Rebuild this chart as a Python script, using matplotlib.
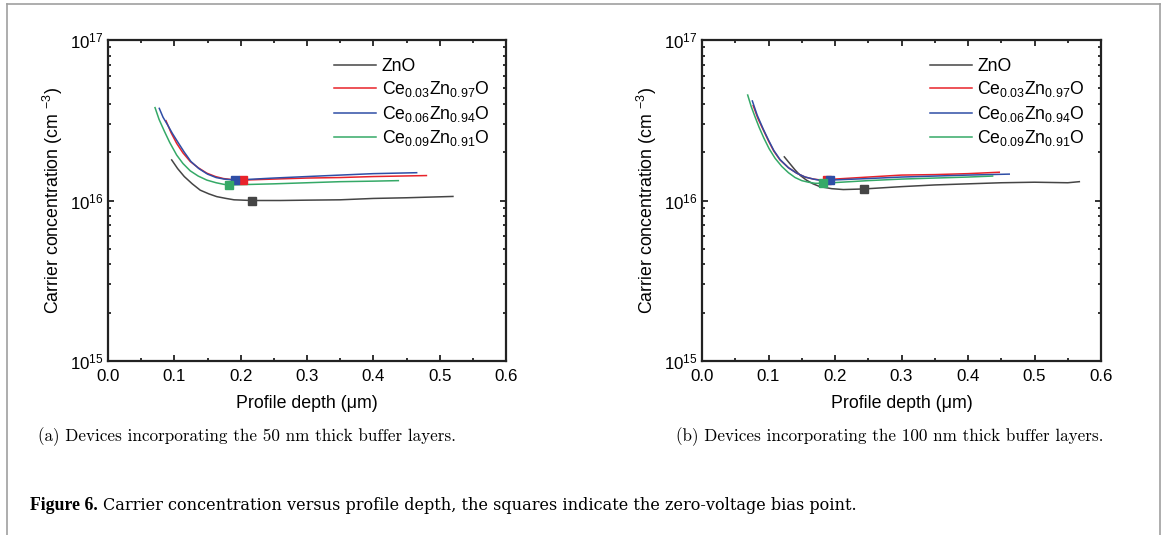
import matplotlib
matplotlib.use("Agg")
import matplotlib.pyplot as plt
import matplotlib.ticker as ticker
from matplotlib.lines import Line2D

plt.rcParams["font.family"] = ["Liberation Sans", "DejaVu Sans"]
plt.rcParams["mathtext.fontset"] = "custom"
plt.rcParams["mathtext.rm"] = "Liberation Sans"
plt.rcParams["mathtext.it"] = "Liberation Sans:italic"
plt.rcParams["mathtext.bf"] = "Liberation Sans:bold"

# ── Data ─────────────────────────────────────────────────────────────────────
labels = ["ZnO", r"Ce$_{0.03}$Zn$_{0.97}$O", r"Ce$_{0.06}$Zn$_{0.94}$O", r"Ce$_{0.09}$Zn$_{0.91}$O"]
colors = ["#454545", "#e8232a", "#2f4ea6", "#35a967"]

# (a) 50 nm buffer
a_zno_x = [0.096, 0.105, 0.115, 0.127, 0.139, 0.152, 0.164, 0.178, 0.190, 0.217, 0.26, 0.30, 0.35, 0.40, 0.45, 0.52]
a_zno_y = [1.79e16, 1.58e16, 1.41e16, 1.27e16, 1.16e16, 1.10e16, 1.057e16, 1.03e16, 1.01e16, 1.00e16, 1.00e16, 1.005e16, 1.01e16, 1.03e16, 1.04e16, 1.06e16]
a_c03_x = [0.0874, 0.095, 0.1035, 0.113, 0.124, 0.136, 0.149, 0.162, 0.174, 0.190, 0.203, 0.25, 0.30, 0.35, 0.40, 0.44, 0.48]
a_c03_y = [3.14e16, 2.65e16, 2.27e16, 1.98e16, 1.75e16, 1.60e16, 1.48e16, 1.41e16, 1.37e16, 1.345e16, 1.34e16, 1.36e16, 1.38e16, 1.39e16, 1.41e16, 1.42e16, 1.43e16]
a_c06_x = [0.0773, 0.083, 0.090, 0.097, 0.105, 0.115, 0.125, 0.137, 0.150, 0.163, 0.175, 0.1915, 0.25, 0.30, 0.35, 0.40, 0.4653]
a_c06_y = [3.75e16, 3.30e16, 2.95e16, 2.62e16, 2.32e16, 2.00e16, 1.75e16, 1.58e16, 1.46e16, 1.39e16, 1.36e16, 1.34e16, 1.38e16, 1.41e16, 1.44e16, 1.47e16, 1.49e16]
a_c09_x = [0.0709, 0.077, 0.085, 0.093, 0.1035, 0.113, 0.124, 0.136, 0.149, 0.163, 0.175, 0.1824, 0.25, 0.30, 0.35, 0.40, 0.4377]
a_c09_y = [3.79e16, 3.20e16, 2.70e16, 2.30e16, 1.92e16, 1.70e16, 1.53e16, 1.42e16, 1.34e16, 1.29e16, 1.26e16, 1.25e16, 1.27e16, 1.29e16, 1.31e16, 1.32e16, 1.33e16]

# zero-bias points (a)
a_sq_x = [0.217, 0.203, 0.1915, 0.1824]
a_sq_y = [1.00e16, 1.34e16, 1.34e16, 1.25e16]

# (b) 100 nm buffer
b_zno_x = [0.1238, 0.132, 0.140, 0.148, 0.157, 0.167, 0.1774, 0.195, 0.2125, 0.2431, 0.30, 0.35, 0.40, 0.45, 0.50, 0.55, 0.5674]
b_zno_y = [1.87e16, 1.70e16, 1.55e16, 1.43e16, 1.34e16, 1.27e16, 1.22e16, 1.185e16, 1.17e16, 1.18e16, 1.22e16, 1.25e16, 1.27e16, 1.29e16, 1.30e16, 1.29e16, 1.31e16]
b_c03_x = [0.077, 0.084, 0.0922, 0.100, 0.108, 0.1173, 0.130, 0.1424, 0.155, 0.1674, 0.180, 0.1875, 0.25, 0.30, 0.35, 0.40, 0.447]
b_c03_y = [3.90e16, 3.25e16, 2.75e16, 2.35e16, 2.03e16, 1.79e16, 1.60e16, 1.48e16, 1.40e16, 1.36e16, 1.34e16, 1.35e16, 1.40e16, 1.44e16, 1.45e16, 1.47e16, 1.50e16]
b_c06_x = [0.0757, 0.083, 0.0922, 0.100, 0.108, 0.1173, 0.130, 0.1424, 0.155, 0.1674, 0.180, 0.1925, 0.25, 0.30, 0.35, 0.40, 0.462]
b_c06_y = [4.17e16, 3.40e16, 2.78e16, 2.38e16, 2.05e16, 1.80e16, 1.60e16, 1.48e16, 1.40e16, 1.36e16, 1.33e16, 1.34e16, 1.37e16, 1.40e16, 1.42e16, 1.44e16, 1.46e16]
b_c09_x = [0.0687, 0.074, 0.080, 0.086, 0.093, 0.101, 0.110, 0.120, 0.130, 0.140, 0.150, 0.160, 0.170, 0.1815, 0.25, 0.30, 0.35, 0.40, 0.437]
b_c09_y = [4.54e16, 3.85e16, 3.30e16, 2.85e16, 2.45e16, 2.10e16, 1.83e16, 1.63e16, 1.49e16, 1.39e16, 1.33e16, 1.30e16, 1.28e16, 1.28e16, 1.33e16, 1.36e16, 1.38e16, 1.40e16, 1.42e16]

b_sq_x = [0.2431, 0.1875, 0.1925, 0.1815]
b_sq_y = [1.18e16, 1.35e16, 1.34e16, 1.28e16]

panels = [
    ([(a_zno_x, a_zno_y), (a_c03_x, a_c03_y), (a_c06_x, a_c06_y), (a_c09_x, a_c09_y)], a_sq_x, a_sq_y),
    ([(b_zno_x, b_zno_y), (b_c03_x, b_c03_y), (b_c06_x, b_c06_y), (b_c09_x, b_c09_y)], b_sq_x, b_sq_y),
]
subcaptions = [
    "(a) Devices incorporating the 50 nm thick buffer layers.",
    "(b) Devices incorporating the 100 nm thick buffer layers.",
]

# ── Figure ───────────────────────────────────────────────────────────────────
fig = plt.figure(figsize=(11.65, 5.35), dpi=100)
axes = [fig.add_axes([108 / 1165, 1 - 361 / 535, 398 / 1165, 321 / 535]),
        fig.add_axes([702 / 1165, 1 - 361 / 535, 399 / 1165, 321 / 535])]
legend_x = [0.568, 0.571]

for ax, (series, sq_x, sq_y), lx in zip(axes, panels, legend_x):
    for (x, y), c, lab in zip(series, colors, labels):
        ax.plot(x, y, color=c, linewidth=1.1, label=lab)
    for xs, ys, c in zip(sq_x, sq_y, colors):
        ax.plot([xs], [ys], marker="s", markersize=6, color=c, linestyle="none")

    ax.set_yscale("log")
    ax.set_xlim(0, 0.6)
    ax.set_ylim(1e15, 1e17)
    ax.xaxis.set_major_locator(ticker.MultipleLocator(0.1))
    ax.xaxis.set_minor_locator(ticker.MultipleLocator(0.05))
    ax.xaxis.set_major_formatter(ticker.FormatStrFormatter("%.1f"))
    ax.yaxis.set_major_locator(ticker.LogLocator(base=10, numticks=5))
    ax.yaxis.set_minor_locator(ticker.LogLocator(base=10, subs=range(2, 10), numticks=20))
    ax.yaxis.set_minor_formatter(ticker.NullFormatter())
    ax.tick_params(which="both", direction="in", top=True, right=True, width=1.3, labelsize=12.2, color="#222222")
    ax.tick_params(which="major", length=4)
    ax.tick_params(axis="x", which="major", pad=5.5)
    ax.tick_params(axis="y", which="major", pad=3)
    ax.tick_params(which="minor", length=2.5)
    for sp in ax.spines.values():
        sp.set_linewidth(1.6)
        sp.set_color("#222222")

    ax.set_xlabel("Profile depth (\u03bcm)", fontsize=12.8, labelpad=8)
    ax.set_ylabel(r"Carrier concentration (cm $^{-3}$)", fontsize=12.8, labelpad=4)

    handles = [Line2D([], [], color=c, linewidth=1.1) for c in colors]
    ax.legend(handles, labels, loc="upper left", bbox_to_anchor=(lx, 0.944), frameon=False,
              fontsize=12.7, handlelength=2.4, handletextpad=0.3, labelspacing=0.25,
              borderpad=0, borderaxespad=0)

# sub-captions and figure caption
fig.text(247 / 1165, 1 - 437 / 535, subcaptions[0], family="cmr10", fontsize=12.3, ha="center", va="center")
fig.text(890 / 1165, 1 - 437 / 535, subcaptions[1], family="cmr10", fontsize=12.3, ha="center", va="center")

t1 = fig.text(30 / 1165, 1 - 505 / 535, "Figure 6.", family="Liberation Serif", fontsize=12.8,
              fontweight="bold", ha="left", va="center")
fig.canvas.draw()
bb = t1.get_window_extent()
fig.text((bb.x1 + 5) / 1165, 1 - 505 / 535,
         "Carrier concentration versus profile depth, the squares indicate the zero-voltage bias point.",
         family="DejaVu Serif", fontsize=11.6, ha="left", va="center")

# page frame
frame = dict(color="#a0a0a0", linewidth=1.2, transform=fig.transFigure)
fig.add_artist(Line2D([7 / 1165, 1160 / 1165], [1 - 4 / 535, 1 - 4 / 535], **frame))
fig.add_artist(Line2D([7 / 1165, 7 / 1165], [0, 1 - 4 / 535], **frame))
fig.add_artist(Line2D([1160 / 1165, 1160 / 1165], [0, 1 - 4 / 535], **frame))

fig.savefig("out.png", dpi=100)
